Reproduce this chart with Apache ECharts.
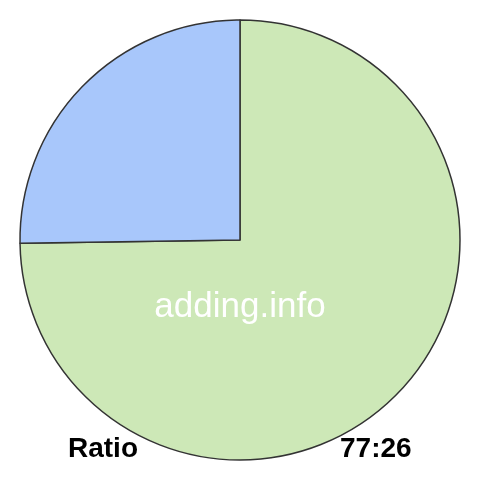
<!DOCTYPE html>
<html><head><meta charset="utf-8">
<script src="https://cdn.jsdelivr.net/npm/echarts@6/dist/echarts.min.js"></script>
<style>html,body{margin:0;padding:0;background:#fff}#c{width:480px;height:480px}</style>
</head><body><div id="c"></div>
<script>
var categories = ['A', 'B'];
var values = [77, 26];
var colors = ['#cde8b7', '#a8c7fb'];
var ratioLabel = 'Ratio';
var ratioText = '77:26';
var watermark = 'adding.info';

var chart = echarts.init(document.getElementById('c'), null, {renderer: 'canvas'});
chart.setOption({
  animation: false,
  backgroundColor: '#ffffff',
  series: [{
    type: 'pie',
    center: [240, 240],
    radius: [0, 220],
    startAngle: 90,
    clockwise: true,
    label: {show: false},
    labelLine: {show: false},
    emphasis: {disabled: true},
    itemStyle: {borderColor: '#333333', borderWidth: 1.5},
    data: categories.map(function (c, i) {
      return {name: c, value: values[i], itemStyle: {color: colors[i]}};
    })
  }],
  graphic: [
    {type: 'text', left: 'center', top: 290, z: 100,
     style: {text: watermark, fill: '#ffffff', font: '35px "Liberation Sans", Arial, sans-serif'}},
    {type: 'text', left: 68, top: 435, z: 100,
     style: {text: ratioLabel, fill: '#000000', font: 'bold 28px "Liberation Sans", Arial, sans-serif'}},
    {type: 'text', left: 340, top: 435, z: 100,
     style: {text: ratioText, fill: '#000000', font: 'bold 28px "Liberation Sans", Arial, sans-serif'}}
  ]
});
</script></body></html>
